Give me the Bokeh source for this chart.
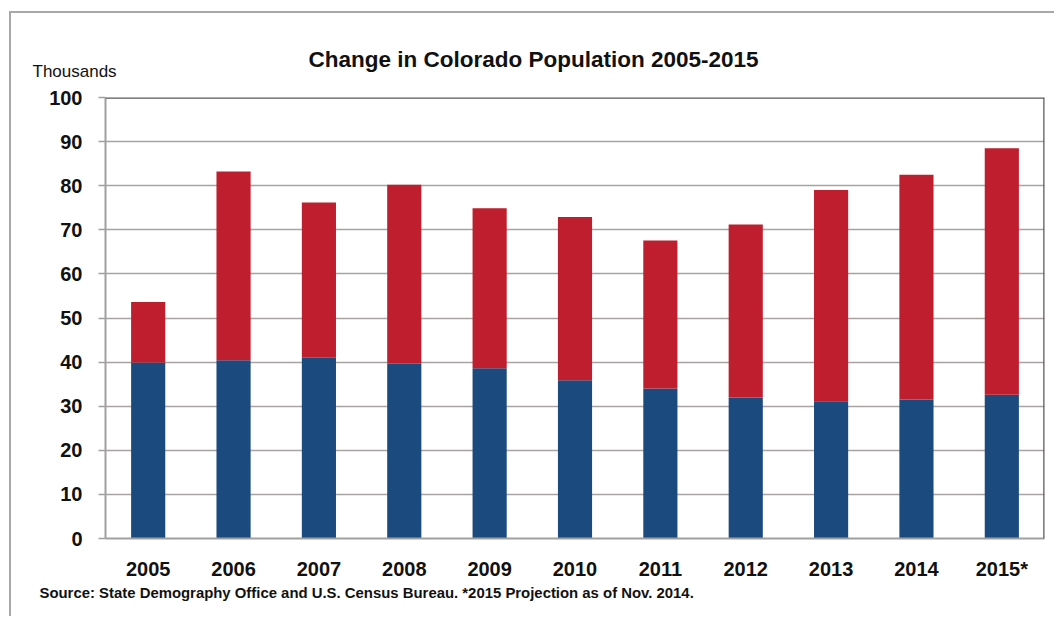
from bokeh.plotting import figure
from bokeh.models import FactorRange, Range1d, Span, FixedTicker, Title, ColumnDataSource
from bokeh.embed import file_html
from bokeh.resources import INLINE

# ---- data (thousands) ----
years = ["2005", "2006", "2007", "2008", "2009", "2010", "2011", "2012", "2013", "2014", "2015*"]
natural_increase = [39.9, 40.4, 41.0, 39.7, 38.6, 35.9, 34.0, 32.0, 31.1, 31.5, 32.6]
net_migration = [13.7, 42.8, 35.2, 40.5, 36.3, 37.0, 33.6, 39.2, 47.9, 51.0, 55.9]
y_ticks = [0, 10, 20, 30, 40, 50, 60, 70, 80, 90, 100]

title_text = "Change in Colorado Population 2005-2015"
unit_text = "Thousands"
source_text = "Source: State Demography Office and U.S. Census Bureau. *2015 Projection as of Nov. 2014."

BLUE = "#1B4A7F"
RED = "#BE1E2D"
SANS = "Liberation Sans"

src = ColumnDataSource(dict(year=years, natural=natural_increase, migration=net_migration))

p = figure(
    x_range=FactorRange(*years, range_padding=0),
    y_range=Range1d(0, 100),
    width=1045, height=605,
    output_backend="svg", toolbar_location=None,
    min_border_left=94, min_border_right=12, min_border_top=84, min_border_bottom=80,
)
p.margin = (11, 0, 0, 9)
p.styles = {"border-top": "2px solid #a8a8a8", "border-left": "2px solid #a8a8a8"}

p.vbar_stack(["natural", "migration"], x="year", width=0.4, color=[BLUE, RED],
             line_color=None, source=src)

# unit label (nearest the frame) and chart title (next panel out)
p.add_layout(Title(text=unit_text, align="left", offset=-73, standoff=33,
                   text_font=SANS, text_font_size="17px", text_font_style="normal",
                   text_color="#111111"), "above")
p.add_layout(Title(text=title_text, align="left", offset=203, standoff=-56,
                   text_font=SANS, text_font_size="22.5px", text_font_style="bold",
                   text_color="#111111"), "above")

# frame / outline
p.outline_line_color = None
p.background_fill_color = "white"
p.border_fill_color = "white"

# grid
p.xgrid.grid_line_color = None
p.ygrid.ticker = FixedTicker(ticks=y_ticks)
p.ygrid.grid_line_color = "#a9a3a3"
p.ygrid.grid_line_width = 1.5

# y axis
p.yaxis.ticker = FixedTicker(ticks=y_ticks)
p.yaxis.axis_line_color = "#a0a0a0"
p.yaxis.axis_line_width = 2
p.yaxis.major_tick_line_color = "#a0a0a0"
p.yaxis.major_tick_line_width = 1.5
p.yaxis.major_tick_out = 7
p.yaxis.major_tick_in = 0
p.yaxis.minor_tick_line_color = None
p.yaxis.major_label_standoff = 16
p.yaxis.major_label_text_font = SANS
p.yaxis.major_label_text_font_style = "bold"
p.yaxis.major_label_text_font_size = "20px"
p.yaxis.major_label_text_color = "#111111"

# x axis
p.xaxis.axis_line_color = "#a0a0a0"
p.xaxis.axis_line_width = 2
p.xaxis.major_tick_line_color = None
p.xaxis.major_tick_out = 0
p.xaxis.major_tick_in = 0
p.xaxis.major_label_standoff = 19
p.xaxis.major_label_text_font = SANS
p.xaxis.major_label_text_font_style = "bold"
p.xaxis.major_label_text_font_size = "20px"
p.xaxis.major_label_text_color = "#111111"

# dark top and right frame edges
p.add_layout(Span(location=100, dimension="width", line_color="#595959", line_width=2.5))
p.add_layout(Span(location=len(years), dimension="height", line_color="#595959", line_width=2.5))

# source note
p.add_layout(Title(text=source_text, align="left", offset=-66, standoff=0,
                   text_font=SANS, text_font_size="14.9px", text_font_style="bold",
                   text_color="#111111"), "below")

open("out.html", "w").write(file_html(p, INLINE))
